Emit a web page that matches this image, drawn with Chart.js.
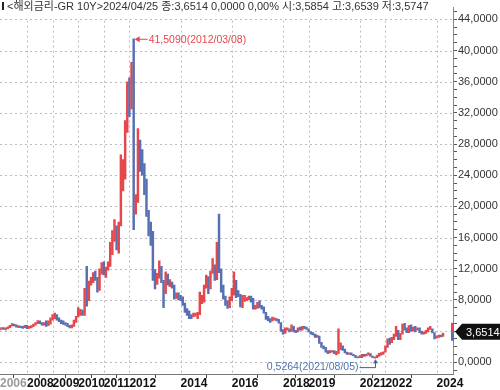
<!DOCTYPE html>
<html>
<head>
<meta charset="utf-8">
<script src="https://cdn.jsdelivr.net/npm/chart.js@4"></script>
<style>
  html, body { margin: 0; padding: 0; background: #fff; }
</style>
</head>
<body>
<canvas id="chart" width="500" height="390"></canvas>
<script>
// monthly candles, first one is 2006-12
var startYear = 2006, startMonth = 11;

var closes = [
  4.25,
  4.35, 4.30, 4.30, 4.50, 4.70, 4.85, 4.75, 4.60, 4.60, 4.55, 4.50, 4.70,
  4.50, 4.50, 4.60, 4.80, 5.00, 5.25, 5.05, 4.85, 4.90, 4.85, 4.95, 5.60,
  5.80, 6.00, 5.60, 5.30, 5.10, 5.00, 4.90, 4.70, 4.50, 4.60, 5.20, 5.80,
  6.40, 6.40, 6.20, 8.50, 8.00, 10.0, 10.4, 11.3, 10.9, 9.20, 11.5, 12.4,
  11.4, 11.7, 12.5, 14.0, 16.3, 16.7, 15.0, 17.9, 22.5, 25.0, 29.5, 35.0,
  33.5, 37.0, 19.9, 21.0, 28.0, 25.8, 25.0, 23.5, 19.5, 17.5, 16.5, 11.7,
  10.0, 11.0, 12.3, 10.5, 9.00, 11.0, 10.3, 10.3, 9.90, 8.60, 8.60, 8.40,
  8.30, 7.60, 6.90, 6.30, 6.00, 5.90, 6.10, 6.10, 6.30, 7.80, 8.20, 9.50,
  11.0, 9.60, 11.5, 12.5, 10.9, 14.5, 12.0, 9.30, 8.30, 7.70, 7.10, 8.30,
  9.00, 10.3, 8.80, 8.70, 7.30, 8.00, 8.10, 8.10, 8.40, 8.10, 7.00, 7.10,
  7.40, 7.20, 7.00, 6.40, 5.70, 5.50, 5.30, 5.60, 5.60, 5.40, 5.10, 4.10,
  3.70, 4.30, 4.30, 4.10, 4.50, 4.00, 3.90, 4.30, 4.20, 4.50, 4.40, 4.30,
  3.90, 3.70, 3.60, 3.30, 3.30, 2.50, 2.10, 1.90, 1.40, 1.30, 1.40, 1.40,
  1.20, 1.30, 1.80, 2.10, 1.60, 1.30, 1.10, 1.20, 1.00, 0.90, 0.70, 0.60,
  0.70, 0.95, 0.85, 0.95, 1.00, 0.80, 0.60, 0.60, 0.85, 1.05, 1.10, 1.30,
  2.00, 2.80, 2.60, 3.10, 3.40, 3.90, 3.20, 3.70, 4.40, 4.30, 3.90, 4.60,
  4.20, 4.30, 4.20, 4.30, 3.90, 3.70, 3.70, 4.00, 4.20, 4.30, 3.80, 3.10,
  3.30, 3.40, 3.35, 3.6514
];

var highs = [
  4.30,
  4.45, 4.45, 4.40, 4.55, 4.75, 4.95, 4.90, 4.80, 4.70, 4.65, 4.60, 4.75,
  4.75, 4.60, 4.70, 4.90, 5.10, 5.35, 5.30, 5.10, 5.10, 5.30, 5.30, 5.70,
  6.10, 6.30, 6.10, 5.70, 5.40, 5.30, 5.10, 5.00, 4.75, 4.80, 5.40, 5.90,
  7.00, 6.80, 6.70, 9.50, 12.3, 10.4, 10.9, 11.5, 11.7, 10.9, 12.0, 12.8,
  12.9, 12.2, 12.9, 15.4, 16.9, 18.3, 17.5, 18.0, 26.6, 26.0, 31.0, 36.0,
  36.5, 38.5, 41.509, 21.5, 30.0, 28.5, 27.3, 25.5, 23.5, 19.5, 18.0, 16.8,
  11.9, 11.4, 13.0, 12.3, 10.5, 11.6, 11.3, 10.6, 10.3, 9.90, 8.90, 8.90,
  8.60, 8.40, 7.60, 6.90, 6.60, 6.10, 6.30, 6.30, 6.40, 9.00, 8.60, 9.90,
  11.2, 11.0, 11.7, 13.3, 12.5, 15.4, 19.0, 12.0, 9.90, 8.50, 7.90, 8.40,
  9.50, 11.6, 10.5, 9.20, 8.70, 8.60, 8.60, 8.30, 8.50, 8.50, 8.20, 7.30,
  7.70, 7.90, 7.30, 7.10, 6.40, 5.90, 5.60, 5.80, 5.70, 5.60, 5.50, 5.10,
  4.20, 4.40, 4.40, 4.30, 4.80, 4.60, 4.10, 4.40, 4.50, 4.60, 4.60, 4.50,
  4.30, 3.90, 3.80, 3.60, 3.50, 3.35, 2.55, 2.10, 1.90, 1.50, 1.50, 1.50,
  1.50, 1.40, 4.30, 2.50, 2.10, 1.70, 1.30, 1.20, 1.20, 1.00, 0.90, 0.70,
  0.85, 1.00, 1.00, 1.05, 1.20, 1.10, 0.80, 0.65, 0.90, 1.15, 1.25, 1.35,
  2.10, 3.00, 3.10, 3.20, 3.60, 4.60, 4.10, 3.70, 4.90, 5.00, 4.40, 4.70,
  4.80, 4.50, 4.60, 4.40, 4.40, 4.00, 3.90, 4.10, 4.40, 4.60, 4.30, 3.80,
  3.40, 3.50, 3.50, 3.75
];

var lows = [
  4.10,
  4.20, 4.20, 4.15, 4.30, 4.45, 4.65, 4.65, 4.50, 4.45, 4.45, 4.35, 4.45,
  4.30, 4.35, 4.40, 4.55, 4.75, 4.95, 4.95, 4.75, 4.75, 4.60, 4.70, 4.90,
  5.40, 5.60, 5.40, 5.20, 4.95, 4.85, 4.75, 4.55, 4.40, 4.40, 4.60, 5.10,
  5.80, 6.00, 6.00, 6.00, 7.20, 7.90, 9.90, 10.2, 10.5, 9.00, 9.20, 11.3,
  11.2, 10.9, 11.8, 12.3, 13.8, 15.5, 14.4, 14.0, 17.5, 22.0, 23.5, 29.5,
  31.5, 32.5, 17.0, 19.0, 20.5, 24.5, 24.0, 21.5, 18.7, 16.2, 15.0, 10.5,
  9.40, 10.0, 10.8, 10.2, 7.00, 8.80, 9.90, 9.70, 9.50, 8.10, 8.20, 8.00,
  7.90, 7.30, 6.40, 6.00, 5.60, 5.60, 5.80, 5.90, 5.60, 6.10, 7.50, 7.70,
  9.50, 8.80, 9.40, 11.4, 10.5, 10.6, 11.5, 9.00, 8.10, 7.30, 6.90, 7.00,
  7.90, 8.60, 8.30, 8.40, 7.10, 7.00, 7.80, 7.90, 8.00, 7.70, 6.80, 6.80,
  6.90, 7.00, 6.80, 6.30, 5.50, 5.30, 5.10, 5.30, 5.40, 5.30, 5.00, 4.00,
  3.60, 3.70, 4.10, 3.90, 4.00, 3.90, 3.80, 3.90, 4.10, 4.10, 4.30, 4.20,
  3.90, 3.60, 3.50, 3.20, 3.20, 2.40, 1.90, 1.70, 1.30, 1.10, 1.20, 1.30,
  1.10, 0.95, 1.10, 1.60, 1.50, 1.20, 1.00, 1.00, 0.95, 0.80, 0.60, 0.55,
  0.60, 0.60, 0.75, 0.80, 0.90, 0.75, 0.60, 0.5264, 0.60, 0.75, 0.90, 1.00,
  1.30, 1.90, 2.30, 2.50, 2.90, 3.30, 2.90, 2.90, 3.60, 4.10, 3.80, 3.80,
  4.00, 4.00, 3.90, 4.10, 3.80, 3.60, 3.60, 3.70, 3.90, 4.20, 3.75, 3.00,
  3.10, 3.20, 3.25, 3.30
];

var yearTicks = [2006.945, 2008, 2009, 2010, 2011, 2012, 2014, 2016, 2018, 2019, 2021, 2022, 2024];
var yearLabels = ['2006', '2008', '2009', '2010', '2011', '2012', '2014', '2016', '2018', '2019', '2021', '2022', '2024'];

var headerText = '<해외금리-GR 10Y>2024/04/25 종:3,6514 0,0000 0,00% 시:3,5854 고:3,6539 저:3,5747';
var maxLabel = '41,5090(2012/03/08)';
var minLabel = '0,5264(2021/08/05)';
var lastLabel = '3,6514';

var RED = '#e5474b';
var BLUE = '#5770b3';

// x position of every month (decimal year)
var months = [];
for (var i = 0; i < closes.length; i++) months.push(startYear + (startMonth + i) / 12);

var colors = closes.map(function (c, i) {
  var open = i > 0 ? closes[i - 1] : lows[i];
  return c >= open ? RED : BLUE;
});

var yTicks = [];
for (var v = -1; v <= 45; v++) yTicks.push(v);

var labelFont = '"Liberation Sans", "Noto Sans CJK KR", sans-serif';

// dotted grid drawn under the candles
var dottedGrid = {
  id: 'dottedGrid',
  beforeDatasetsDraw: function (chart) {
    var ctx = chart.ctx, a = chart.chartArea, xs = chart.scales.x, ys = chart.scales.y;
    ctx.save();
    ctx.strokeStyle = '#bcbcbc';
    ctx.lineWidth = 1;
    ctx.setLineDash([2, 3]);
    ctx.beginPath();
    yearTicks.slice(1).forEach(function (t) {
      var x = Math.round(xs.getPixelForValue(t)) + 0.5;
      ctx.moveTo(x, a.top + 13); ctx.lineTo(x, a.bottom);
    });
    yTicks.forEach(function (t) {
      if (t % 4 !== 0) return;
      var y = Math.round(ys.getPixelForValue(t)) + 0.5;
      ctx.moveTo(a.left, y); ctx.lineTo(a.right, y);
    });
    ctx.stroke();
    ctx.restore();
  }
};

var decor = {
  id: 'decor',
  afterDraw: function (chart) {
    var ctx = chart.ctx, xs = chart.scales.x, ys = chart.scales.y;
    ctx.save();

    // header line
    ctx.fillStyle = '#fff';
    ctx.fillRect(0, 0, 412, 13);
    ctx.fillStyle = '#222';
    ctx.fillRect(2, 2, 2, 8);
    ctx.font = '11px ' + labelFont;
    ctx.fillStyle = '#333';
    ctx.textBaseline = 'middle';
    ctx.textAlign = 'left';
    ctx.fillText(headerText, 7, 7);

    // highest point
    var hi = highs.indexOf(Math.max.apply(null, highs));
    var hx = xs.getPixelForValue(months[hi]), hy = ys.getPixelForValue(highs[hi]);
    ctx.strokeStyle = RED; ctx.fillStyle = RED; ctx.lineWidth = 1;
    ctx.beginPath(); ctx.moveTo(hx + 4, hy + 0.5); ctx.lineTo(hx + 14, hy + 0.5); ctx.stroke();
    ctx.beginPath(); ctx.moveTo(hx + 1, hy + 0.5); ctx.lineTo(hx + 6, hy - 2.5); ctx.lineTo(hx + 6, hy + 3.5); ctx.closePath(); ctx.fill();
    ctx.font = '10.5px ' + labelFont;
    ctx.fillText(maxLabel, hx + 15, hy + 1);

    // lowest point
    var lo = lows.indexOf(Math.min.apply(null, lows));
    var lx = Math.round(xs.getPixelForValue(months[lo])) + 0.5, ly = ys.getPixelForValue(lows[lo]);
    ctx.strokeStyle = '#3d5c9c'; ctx.fillStyle = '#3d5c9c';
    ctx.beginPath(); ctx.moveTo(lx - 16, ly + 9.5); ctx.lineTo(lx, ly + 9.5); ctx.lineTo(lx, ly + 4); ctx.stroke();
    ctx.beginPath(); ctx.moveTo(lx, ly + 1); ctx.lineTo(lx - 2.5, ly + 5); ctx.lineTo(lx + 2.5, ly + 5); ctx.closePath(); ctx.fill();
    ctx.fillStyle = '#5275b0';
    ctx.textAlign = 'right';
    ctx.fillText(minLabel, lx - 17, ly + 9);

    // last value marker on the axis
    var last = closes.length - 1;
    var py = ys.getPixelForValue(closes[last]) - 2;
    var ax = chart.chartArea.right;
    ctx.fillStyle = RED; ctx.fillRect(ax - 2, py - 9, 3, 9);
    ctx.fillStyle = BLUE; ctx.fillRect(ax - 2, py, 3, 9);
    ctx.fillStyle = '#111';
    ctx.beginPath();
    ctx.moveTo(ax + 2, py); ctx.lineTo(ax + 9, py - 8); ctx.lineTo(500, py - 8);
    ctx.lineTo(500, py + 8); ctx.lineTo(ax + 9, py + 8); ctx.closePath(); ctx.fill();
    ctx.fillStyle = '#fff';
    ctx.textAlign = 'left';
    ctx.font = '11px ' + labelFont;
    ctx.fillText(lastLabel, ax + 13, py + 1);

    ctx.restore();
  }
};

var ctx = document.getElementById('chart').getContext('2d');

var myChart = new Chart(ctx, {
  type: 'bar',
  data: {
    datasets: [{
      data: months.map(function (x, i) { return { x: x, y: [lows[i], highs[i]] }; }),
      backgroundColor: colors,
      borderWidth: 0,
      barThickness: 1.8,
      grouped: false
    }]
  },
  options: {
    responsive: false,
    animation: false,
    devicePixelRatio: 1,
    layout: { padding: 0 },
    plugins: { legend: { display: false }, tooltip: { enabled: false } },
    scales: {
      x: {
        type: 'linear',
        min: 2006.945,
        max: 2024.64,
        offset: false,
        afterBuildTicks: function (s) { s.ticks = yearTicks.map(function (t) { return { value: t }; }); },
        afterFit: function (s) { s.height = 16; },
        grid: {
          drawOnChartArea: false,
          tickColor: function (c) { return c.index === 0 ? 'rgba(0,0,0,0)' : '#444'; },
          tickLength: 4
        },
        border: { color: '#777' },
        ticks: {
          autoSkip: false,
          maxRotation: 0,
          align: 'start',
          padding: 0,
          color: function (c) { return c.index === 0 ? '#9a9a9a' : '#111'; },
          font: { family: labelFont, size: 12, weight: 'bold', lineHeight: 1 },
          callback: function (val, i) { return yearLabels[i]; }
        }
      },
      y: {
        position: 'right',
        min: -1.51,
        max: 45.51,
        afterBuildTicks: function (s) { s.ticks = yTicks.map(function (t) { return { value: t }; }); },
        afterFit: function (s) { s.width = 47; },
        grid: {
          drawOnChartArea: false,
          tickColor: '#555',
          tickLength: 4
        },
        border: { color: '#888' },
        ticks: {
          autoSkip: false,
          padding: 1,
          color: '#333',
          font: { family: labelFont, size: 11 },
          callback: function (val) { return val % 4 === 0 ? val.toFixed(4).replace('.', ',') : ''; }
        }
      }
    }
  },
  plugins: [dottedGrid, decor]
});
</script>
</body>
</html>
